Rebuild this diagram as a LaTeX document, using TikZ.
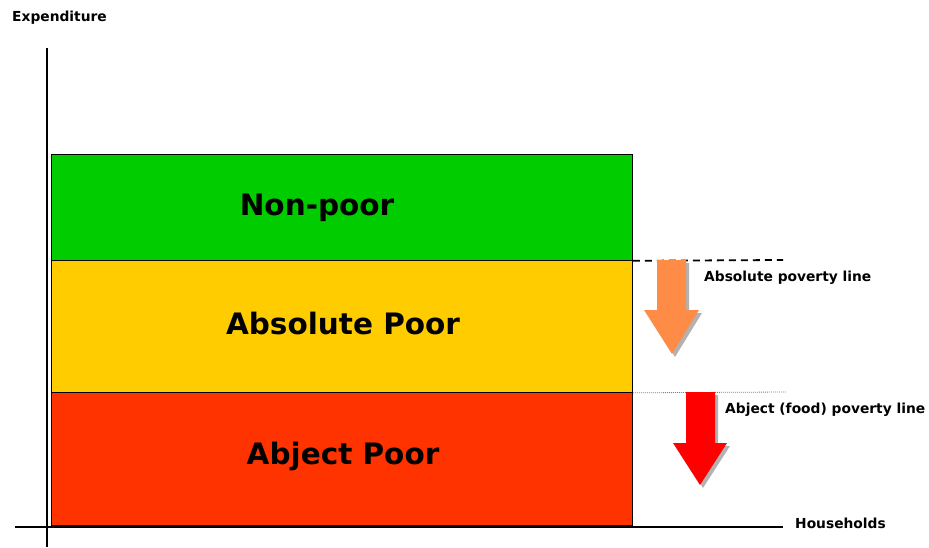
\documentclass[tikz,border=0pt]{standalone}
\usepackage{fontspec}
\setmainfont{DejaVu Sans}
\begin{document}
\begin{tikzpicture}[x=1pt,y=-1pt,
  band/.style={draw=black,line width=0.8pt,minimum width=581pt,anchor=north west,inner sep=0pt},
  big/.style={font=\bfseries\fontsize{29.5}{31}\selectfont},
  small/.style={anchor=west,inner sep=0pt,font=\bfseries\fontsize{13.8}{15}\selectfont},
  axis/.style={line width=2.8pt,black}]
\useasboundingbox (0,0) rectangle (929,547);
\definecolor{cgreen}{RGB}{0,204,0}
\definecolor{cyellow}{RGB}{255,204,0}
\definecolor{cred}{RGB}{255,51,0}
\definecolor{corange}{RGB}{255,140,70}
\definecolor{carrow}{RGB}{255,0,0}
% bands
\node[band,fill=cgreen,minimum height=106pt] (np) at (51,154) {};
\node[band,fill=cyellow,minimum height=132pt] (ap) at (51,260) {};
\node[band,fill=cred,minimum height=133pt] (ab) at (51,392) {};
\node[big] (tnp) at (317,208) {Non-poor};
\node[big] (tap) at (343,323) {Absolute Poor};
\node[big] (tab) at (343,456) {Abject Poor};
% axes
\coordinate (ytop) at (47,48);
\coordinate (ybot) at (47,547);
\coordinate (xl) at (15,527);
\coordinate (xr) at (783,527);
\draw[axis] (ytop) -- (ybot);
\draw[axis] (xl) -- (xr);
% lines
\coordinate (dl) at (783,260);
\coordinate (dd) at (786,392);
\draw[line width=1.8pt,dash pattern=on 7pt off 5pt] (np.south east) -- (dl);
\draw[gray,line width=0.8pt,dash pattern=on 1pt off 1pt] (ap.south east) -- (dd);
% orange arrow (shadow then arrow)
\fill[gray!60] (660,263) -- (689,263) -- (689,313) -- (702,313) -- (675,357) -- (647,313) -- (660,313) -- cycle;
\fill[corange] (657,260) -- (686,260) -- (686,310) -- (699,310) -- (672,354) -- (644,310) -- (657,310) -- cycle;
% red arrow
\fill[gray!60] (689,395) -- (718,395) -- (718,446) -- (730,446) -- (703,488) -- (676,446) -- (689,446) -- cycle;
\fill[carrow] (686,392) -- (715,392) -- (715,443) -- (727,443) -- (700,485) -- (673,443) -- (686,443) -- cycle;
% labels
\node[small] (l1) at (704,278) {Absolute poverty line};
\node[small] (l2) at (725,410) {Abject (food) poverty line};
\node[small] (hh) at (795,523) {Households};
\node[small] (ex) at (12,18) {Expenditure};
\end{tikzpicture}
\end{document}
